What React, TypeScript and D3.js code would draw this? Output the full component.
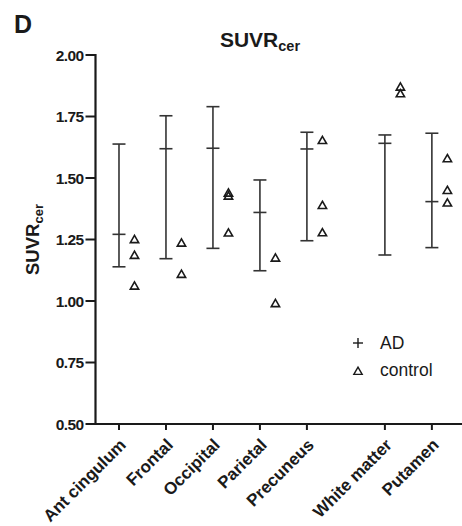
import React from "react";
import * as d3 from "d3";

const categories = ["Ant cingulum", "Frontal", "Occipital", "Parietal", "Precuneus", "White matter", "Putamen"];
const categoryPositions = [0, 1, 2, 3, 4, 5.66, 6.66];
const adTop = [1.638, 1.753, 1.79, 1.492, 1.686, 1.675, 1.682];
const adMid = [1.271, 1.619, 1.621, 1.36, 1.618, 1.641, 1.404];
const adBottom = [1.139, 1.172, 1.214, 1.123, 1.245, 1.187, 1.217];
const control = [
  [1.251, 1.187, 1.062],
  [1.237, 1.11],
  [1.44, 1.428, 1.278],
  [1.176, 0.991],
  [1.654, 1.39, 1.279],
  [1.871, 1.844],
  [1.58, 1.451, 1.4],
];
const yTicks = [0.5, 0.75, 1.0, 1.25, 1.5, 1.75, 2.0];

const W = 462;
const H = 526;
const font = "Liberation Sans, Arial, sans-serif";
const ink = "#1a1a1a";

export default function App() {
  const y = d3.scaleLinear().domain([0.5, 2.0]).range([424, 55]);
  const x = d3.scaleLinear().domain([-0.5, 7.28]).range([95.5, 461]);
  const cap = 6.5;
  const tri = d3.symbol().type(d3.symbolTriangle).size(30);
  const triPath = tri() as string;
  const x0 = x(-0.5);

  return (
    <svg width={W} height={H} style={{ position: "absolute", left: 0, top: 0, background: "#fff" }}>
      <text x={14} y={33} fontFamily={font} fontWeight="bold" fontSize={25} fill={ink}>D</text>
      <text x={260} y={47} textAnchor="middle" fontFamily={font} fontWeight="bold" fontSize={21} fill={ink}>
        SUVR<tspan fontSize={14.5} dy={4}>cer</tspan>
      </text>

      {/* y axis */}
      <line x1={x0} x2={x0} y1={y(2.0) - 1} y2={y(0.5) + 1} stroke={ink} strokeWidth={2.2} />
      {yTicks.map((t) => (
        <g key={t}>
          <line x1={x0 - 10} x2={x0} y1={y(t)} y2={y(t)} stroke={ink} strokeWidth={2} />
          <text x={x0 - 12} y={y(t) + 5.5} textAnchor="end" fontFamily={font} fontWeight="bold" fontSize={15.5} fill={ink} letterSpacing={-0.6}>
            {t.toFixed(2)}
          </text>
        </g>
      ))}
      <text transform={`translate(39,${(y(2) + y(0.5)) / 2}) rotate(-90)`} textAnchor="middle" fontFamily={font} fontWeight="bold" fontSize={18.5} fill={ink}>
        SUVR<tspan fontSize={13} dy={4}>cer</tspan>
      </text>

      {/* x axis */}
      <line x1={x0 - 1} x2={W} y1={y(0.5)} y2={y(0.5)} stroke={ink} strokeWidth={2.2} />
      {categories.map((c, i) => {
        const cx = x(categoryPositions[i]);
        return (
          <g key={c}>
            <line x1={cx} x2={cx} y1={y(0.5)} y2={y(0.5) + 6} stroke={ink} strokeWidth={2} />
            <text transform={`translate(${cx + 8},${y(0.5) + 22}) rotate(-45)`} textAnchor="end" fontFamily={font} fontWeight="bold" fontSize={17} fill={ink}>
              {c}
            </text>
          </g>
        );
      })}

      {/* AD error bars */}
      {categories.map((c, i) => {
        const cx = x(categoryPositions[i]);
        return (
          <g key={"ad" + c} stroke="#333" strokeWidth={1.6}>
            <line x1={cx} x2={cx} y1={y(adTop[i])} y2={y(adBottom[i])} />
            <line x1={cx - cap} x2={cx + cap} y1={y(adTop[i])} y2={y(adTop[i])} />
            <line x1={cx - cap} x2={cx + cap} y1={y(adMid[i])} y2={y(adMid[i])} />
            <line x1={cx - cap} x2={cx + cap} y1={y(adBottom[i])} y2={y(adBottom[i])} />
          </g>
        );
      })}

      {/* control triangles */}
      {control.map((vals, i) =>
        vals.map((v, j) => (
          <path
            key={i + "-" + j}
            d={triPath}
            transform={`translate(${x(categoryPositions[i]) + 15.5},${y(v) + 1})`}
            fill="none"
            stroke={ink}
            strokeWidth={1.6}
          />
        ))
      )}

      {/* legend */}
      <g>
        <line x1={353} x2={363} y1={343} y2={343} stroke={ink} strokeWidth={1.4} />
        <line x1={358} x2={358} y1={338} y2={348} stroke={ink} strokeWidth={1.4} />
        <text x={380} y={348.5} fontFamily={font} fontSize={17.5} fill={ink}>AD</text>
        <path d={triPath} transform="translate(358,372)" fill="none" stroke={ink} strokeWidth={1.4} />
        <text x={380} y={375.5} fontFamily={font} fontSize={17.5} fill={ink}>control</text>
      </g>
    </svg>
  );
}
